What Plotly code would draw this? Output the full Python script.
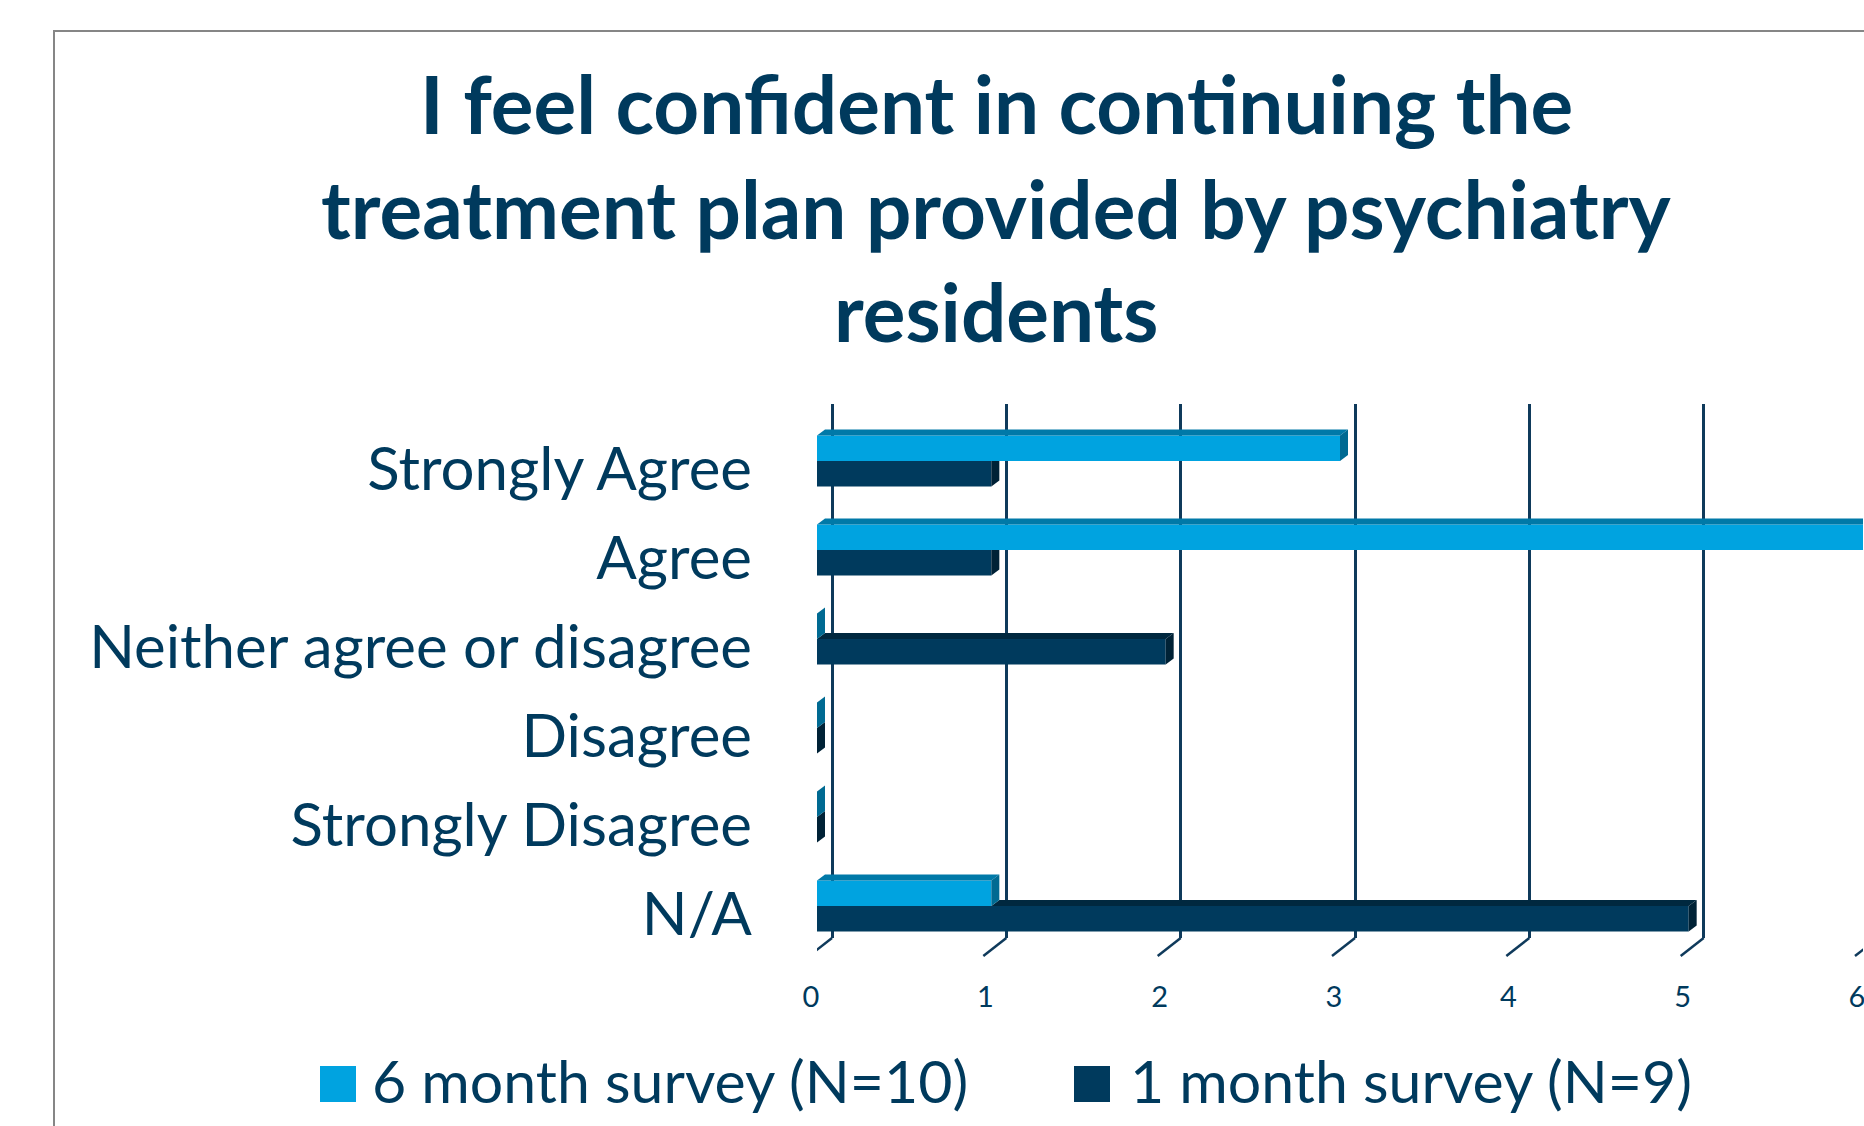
import plotly.graph_objects as go

# ---------------- data ----------------
categories = ["Strongly Agree", "Agree", "Neither agree or disagree",
              "Disagree", "Strongly Disagree", "N/A"]
six_month = [3, 6, 0, 0, 0, 1]
one_month = [1, 1, 2, 0, 0, 5]
x_ticks = [0, 1, 2, 3, 4, 5, 6]
series_names = ["6 month survey (N=10)", "1 month survey (N=9)"]
title_lines = ["I feel confident in continuing the",
               "treatment plan provided by psychiatry",
               "residents"]

# ---------------- style ----------------
W, H = 1864, 1126
FONT = "Lato"
TEXT = "#003A5D"
GRID = "#0F3A5B"
C6_FRONT, C6_TOP, C6_SIDE = "#00A3E0", "#0079A8", "#006A92"
C1_FRONT, C1_TOP, C1_SIDE = "#003A5D", "#00283F", "#002236"

UNIT_PX = 1046 / 6.0      # px per x unit
CAT_PX = 89.0             # px per category
D = 8 / UNIT_PX           # 3D depth (x)
T = 6 / CAT_PX            # 3D depth (y)
HB = 25.5 / CAT_PX        # bar thickness
BACK = 15 / UNIT_PX       # back wall offset


def X(px):
    return px / W


def Y(py):
    return 1 - py / H


pos = list(range(len(categories)))


def poly(points, xs, ys):
    for (a, b) in points:
        xs.append(a)
        ys.append(b)
    xs.append(points[0][0])
    ys.append(points[0][1])
    xs.append(None)
    ys.append(None)


t6x, t6y, s6x, s6y, t1x, t1y, s1x, s1y = [], [], [], [], [], [], [], []
for i, v6, v1 in zip(pos, six_month, one_month):
    yt = i - HB
    poly([(0, yt), (D, yt - T), (v6 + D, yt - T), (v6, yt)], t6x, t6y)
    poly([(v6, yt), (v6 + D, yt - T), (v6 + D, i - T), (v6, i)], s6x, s6y)
    if v1 > v6:
        poly([(v6, i), (v6 + D, i - T), (v1 + D, i - T), (v1, i)], t1x, t1y)
    if v1 >= v6:
        poly([(v1, i), (v1 + D, i - T), (v1 + D, i + HB - T), (v1, i + HB)], s1x, s1y)
    else:
        poly([(v1, i), (v1 + D, i), (v1 + D, i + HB - T), (v1, i + HB)], s1x, s1y)

fig = go.Figure()
fig.add_trace(go.Bar(orientation="h", y=pos, x=six_month, offset=-HB, width=HB,
                     marker=dict(color=C6_FRONT, line=dict(width=0)),
                     name=series_names[0], xaxis="x2", yaxis="y2",
                     showlegend=False, hoverinfo="skip"))
fig.add_trace(go.Bar(orientation="h", y=pos, x=one_month, offset=0, width=HB,
                     marker=dict(color=C1_FRONT, line=dict(width=0)),
                     name=series_names[1], xaxis="x2", yaxis="y2",
                     showlegend=False, hoverinfo="skip"))
for xs, ys, col in [(t1x, t1y, C1_TOP), (s1x, s1y, C1_SIDE),
                    (t6x, t6y, C6_TOP), (s6x, s6y, C6_SIDE)]:
    fig.add_trace(go.Scatter(x=xs, y=ys, mode="lines", fill="toself",
                             fillcolor=col, line=dict(width=0, color=col),
                             xaxis="x2", yaxis="y2", showlegend=False,
                             hoverinfo="skip"))

y_top_val = (404 - 461) / CAT_PX
y_bot_val = (956 - 461) / CAT_PX

fig.update_layout(
    width=W, height=H, autosize=False,
    margin=dict(l=0, r=0, t=0, b=0, pad=0, autoexpand=False),
    paper_bgcolor="white", plot_bgcolor="rgba(0,0,0,0)",
    barmode="overlay",
    showlegend=False,
    font=dict(family=FONT, color=TEXT),
    # back wall gridlines
    xaxis=dict(domain=[X(817), X(1863)], range=[-BACK, 6 - BACK],
               tickvals=x_ticks, showgrid=True, gridcolor=GRID, gridwidth=2.5,
               zeroline=False, showticklabels=False, ticks="", showline=False,
               anchor="y", fixedrange=True, automargin=False),
    yaxis=dict(domain=[Y(938), Y(404)], range=[0, 1], showgrid=False,
               zeroline=False, showticklabels=False, ticks="", anchor="x",
               fixedrange=True, automargin=False),
    # bars axes
    xaxis2=dict(domain=[X(817), X(1863)], range=[0, 6], tickvals=x_ticks,
                showgrid=False, zeroline=False, showline=False, ticks="",
                tickfont=dict(size=29, color=TEXT, family=FONT),
                ticklabelstandoff=21, ticklabelshift=-6,
                ticklabeloverflow="allow",
                anchor="y2", fixedrange=True, automargin=False),
    yaxis2=dict(domain=[Y(956), Y(404)], range=[y_bot_val, y_top_val],
                tickvals=pos, ticktext=categories, showgrid=False,
                zeroline=False, showline=False, ticks="",
                tickfont=dict(size=60, color=TEXT, family=FONT),
                ticklabelstandoff=64, ticklabelshift=-8,
                anchor="x2", fixedrange=True, automargin=False),
)

shapes = []
# chart border
shapes.append(dict(type="rect", xref="paper", yref="paper",
                   x0=X(54), y0=Y(31), x1=1.05, y1=-0.05,
                   line=dict(color="#868686", width=2), layer="below"))
# slanted floor ticks
for k in x_ticks:
    shapes.append(dict(type="line", xref="x", yref="paper",
                       xsizemode="pixel", xanchor=k, x0=0, x1=-23,
                       y0=Y(938), y1=Y(956),
                       line=dict(color=GRID, width=2.5)))
# legend keys
shapes.append(dict(type="rect", xref="paper", yref="paper",
                   x0=X(320), x1=X(356), y0=Y(1066), y1=Y(1102),
                   fillcolor=C6_FRONT, line=dict(width=0)))
shapes.append(dict(type="rect", xref="paper", yref="paper",
                   x0=X(1074), x1=X(1110), y0=Y(1066), y1=Y(1102),
                   fillcolor=C1_FRONT, line=dict(width=0)))
fig.update_layout(shapes=shapes)

annotations = []
for line, yc in zip(title_lines, [103, 208, 311]):
    annotations.append(dict(text="<b>%s</b>" % line, xref="paper", yref="paper",
                            x=X(996), y=Y(yc), xanchor="center", yanchor="middle",
                            showarrow=False,
                            font=dict(size=80, color=TEXT, family=FONT)))
for name, xl in zip(series_names, [370, 1128]):
    annotations.append(dict(text=name, xref="paper", yref="paper",
                            x=X(xl), y=Y(1080), xanchor="left", yanchor="middle",
                            showarrow=False,
                            font=dict(size=59, color=TEXT, family=FONT)))
fig.update_layout(annotations=annotations)

fig.write_html(
    "out.html",
    config={"responsive": False, "displayModeBar": False},
    post_script="document.body.style.margin='0';"
                "document.body.style.overflow='hidden';"
                "document.documentElement.style.overflow='hidden';",
)
